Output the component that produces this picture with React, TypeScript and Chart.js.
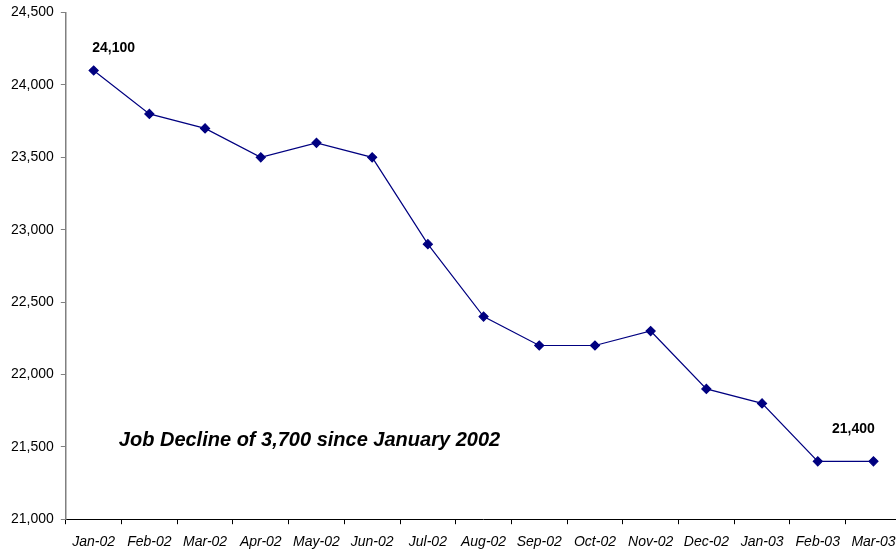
import React, { useEffect, useRef } from "react";
import { Chart, registerables } from "chart.js";

Chart.register(...registerables);

const months = [
  "Jan-02", "Feb-02", "Mar-02", "Apr-02", "May-02", "Jun-02", "Jul-02", "Aug-02",
  "Sep-02", "Oct-02", "Nov-02", "Dec-02", "Jan-03", "Feb-03", "Mar-03",
];
const jobs = [
  24100, 23800, 23700, 23500, 23600, 23500, 22900, 22400,
  22200, 22200, 22300, 21900, 21800, 21400, 21400,
];
const yMin = 21000;
const yMax = 24500;
const yStep = 500;
const calloutIndexes = [0, 14];
const note = "Job Decline of 3,700 since January 2002";

const NAVY = "#000080";
const FONT = "'Liberation Sans', Arial, sans-serif";

// Value call-outs next to the first and last points, plus the italic note
const annotations = {
  id: "annotations",
  afterDatasetsDraw(chart: Chart) {
    const { ctx, scales, chartArea } = chart;
    const x = scales.x;
    const y = scales.y;
    const shifts: Record<number, [number, number]> = { 0: [20, -22], 14: [-20, -32] };
    ctx.save();
    ctx.fillStyle = "#000";
    ctx.textAlign = "center";
    ctx.textBaseline = "middle";
    ctx.font = `bold 14px ${FONT}`;
    calloutIndexes.forEach((i) => {
      const [dx, dy] = shifts[i];
      const px = x.getPixelForValue(i);
      const py = y.getPixelForValue(jobs[i]);
      ctx.fillText(jobs[i].toLocaleString("en-US"), px + dx, py + dy);
    });
    ctx.textAlign = "left";
    ctx.font = `italic bold 20px ${FONT}`;
    ctx.fillText(note, chartArea.left + 53, y.getPixelForValue(21545));
    ctx.restore();
  },
};

export default function App() {
  const ref = useRef<HTMLCanvasElement>(null);

  useEffect(() => {
    if (!ref.current) return;
    const chart = new Chart(ref.current, {
      type: "line",
      data: {
        labels: months,
        datasets: [
          {
            data: jobs,
            borderColor: NAVY,
            backgroundColor: NAVY,
            borderWidth: 1.2,
            tension: 0,
            pointStyle: "rectRot",
            pointRadius: 4.5,
            pointBackgroundColor: NAVY,
            pointBorderColor: NAVY,
          },
        ],
      },
      options: {
        responsive: false,
        animation: false,
        layout: { padding: { left: 4, right: 3, top: 8, bottom: -9 } },
        plugins: {
          legend: { display: false },
          tooltip: { enabled: false },
        },
        scales: {
          x: {
            offset: true,
            grid: {
              offset: true,
              drawOnChartArea: false,
              drawTicks: true,
              tickLength: 5,
              color: "#000",
            },
            border: { color: "#000", width: 1 },
            ticks: {
              color: "#000",
              padding: 10,
              maxRotation: 0,
              autoSkip: false,
              font: { family: FONT, size: 14, style: "italic" },
            },
          },
          y: {
            min: yMin,
            max: yMax,
            grid: {
              drawOnChartArea: false,
              drawTicks: true,
              tickLength: 5,
              color: "#808080",
            },
            border: { color: "#808080", width: 1.5 },
            ticks: {
              stepSize: yStep,
              color: "#000",
              padding: 7,
              font: { family: FONT, size: 14, lineHeight: 0.8 },
              callback: (v) => Number(v).toLocaleString("en-US"),
            },
          },
        },
      },
      plugins: [annotations],
    });
    return () => chart.destroy();
  }, []);

  return (
    <div
      style={{
        position: "fixed",
        left: 0,
        top: 0,
        width: 896,
        height: 552,
        overflow: "hidden",
        background: "#fff",
      }}
    >
      <canvas ref={ref} width={907} height={552} style={{ display: "block" }} />
    </div>
  );
}
